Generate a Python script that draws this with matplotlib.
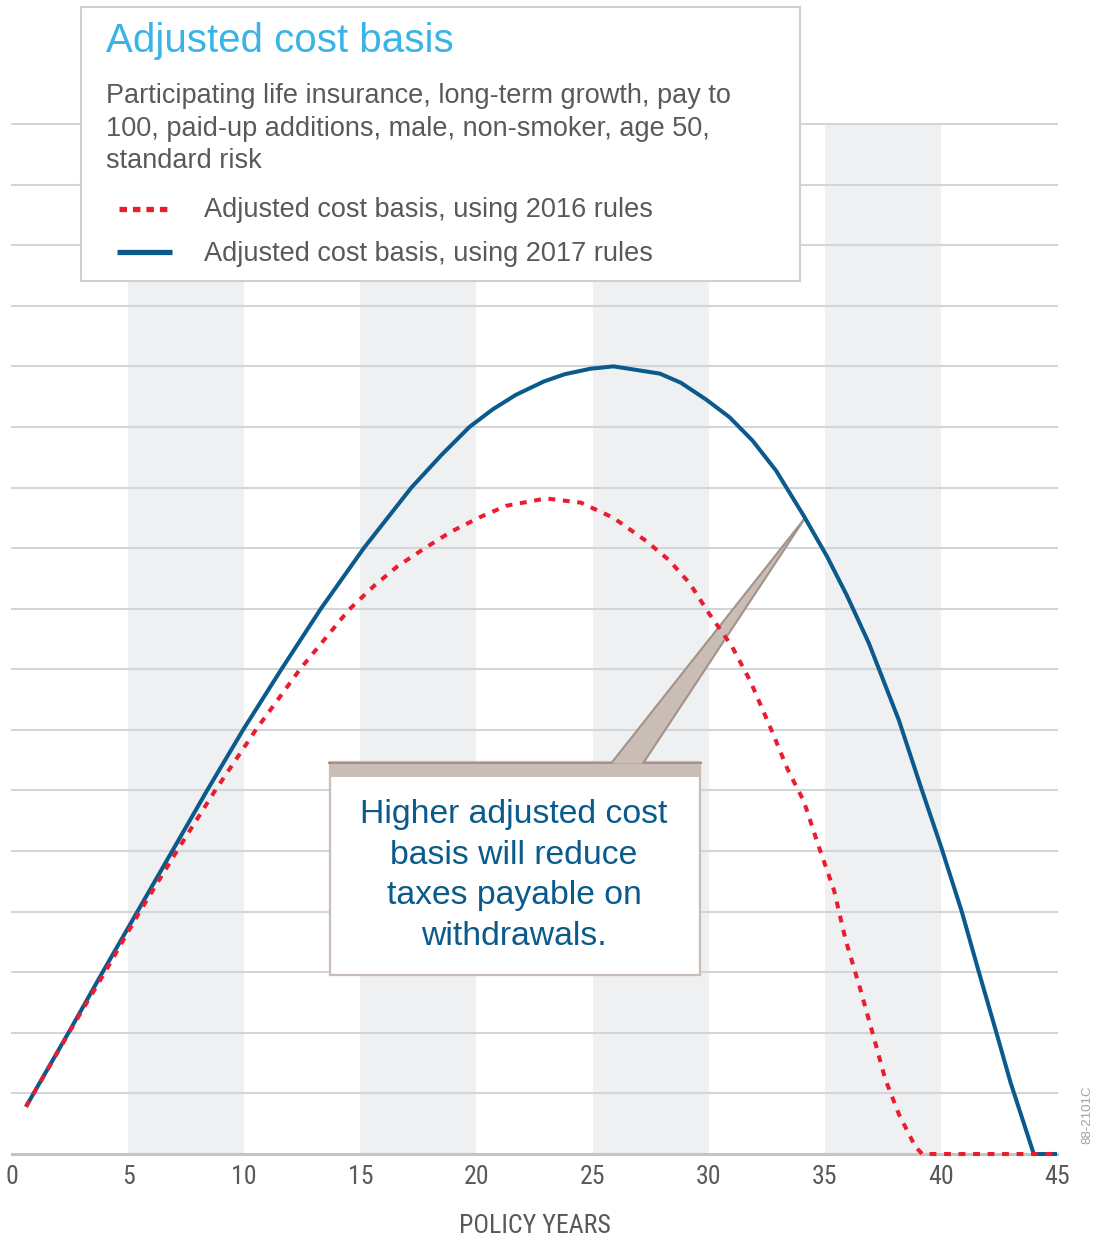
import numpy as np
import matplotlib
matplotlib.use("Agg")
import matplotlib.pyplot as plt
from matplotlib import font_manager as fm
from matplotlib.patches import Rectangle, Polygon
from matplotlib.lines import Line2D
from matplotlib.transforms import Affine2D

# ---------------------------------------------------------------- data
# Adjusted cost basis under the 2017 rules (policy year, relative amount)
acb_2017_years = [0.6, 2.43, 3.9, 5.4, 6.9, 8.4, 9.95, 11.6, 13.3, 15.15, 17.2, 18.5,
                  19.7, 20.7, 21.7, 22.9, 23.8, 24.9, 25.9, 27.9, 28.8, 29.9, 30.9,
                  31.9, 32.9, 34.1, 35.1, 35.95, 36.9, 38.2, 39.1, 40.0, 40.9, 41.6,
                  42.4, 43.0, 44.0, 45.0]
acb_2017_values = [0.78, 2.0, 3.0, 4.0, 5.0, 6.0, 7.0, 8.0, 9.0, 10.0, 11.0, 11.54,
                   12.0, 12.29, 12.53, 12.75, 12.87, 12.96, 13.0, 12.88, 12.73, 12.45,
                   12.16, 11.77, 11.28, 10.53, 9.86, 9.22, 8.43, 7.15, 6.1, 5.08, 4.0,
                   3.05, 1.99, 1.18, 0.0, 0.0]

# Adjusted cost basis under the 2016 rules
acb_2016_years = [0.6, 2.45, 4.0, 5.5, 7.1, 8.75, 10.5, 12.4, 14.5, 15.6, 16.6, 17.7,
                  18.9, 20.2, 21.3, 23.0, 24.5, 25.9, 27.3, 28.3, 29.2, 30.0, 31.0,
                  31.8, 32.7, 33.4, 34.1, 34.7, 35.4, 35.9, 36.5, 37.1, 37.6, 38.2,
                  38.9, 39.2, 45.0]
acb_2016_values = [0.78, 2.0, 3.0, 4.0, 5.0, 6.0, 7.0, 8.0, 8.98, 9.38, 9.7, 9.98,
                   10.27, 10.52, 10.7, 10.82, 10.75, 10.5, 10.12, 9.8, 9.41, 8.93, 8.38,
                   7.8, 7.0, 6.35, 5.82, 5.12, 4.35, 3.53, 2.76, 1.94, 1.24, 0.65,
                   0.12, 0.0, 0.0]

xtick_values = [0, 5, 10, 15, 20, 25, 30, 35, 40, 45]
xtick_labels = ["0", "5", "10", "15", "20", "25", "30", "35", "40", "45"]
shaded_starts = [5, 15, 25, 35]

title = "Adjusted cost basis"
subtitle_lines = ["Participating life insurance, long-term growth, pay to",
                  "100, paid-up additions, male, non-smoker, age 50,",
                  "standard risk"]
legend_labels = ["Adjusted cost basis, using 2016 rules",
                 "Adjusted cost basis, using 2017 rules"]
callout_lines = ["Higher adjusted cost", "basis will reduce",
                 "taxes payable on", "withdrawals."]
x_label = "POLICY YEARS"
code_label = "88-2101C"
callout_year = 34.15

# ---------------------------------------------------------------- style
BLUE = "#0b5a8c"
RED = "#ec1c2e"
TITLE_BLUE = "#3ab4e6"
GREY_TEXT = "#58595b"
BAND = "#eff0f2"
GRID = "#d4d5d7"
TAN = "#c9bdb5"
TAN_DARK = "#a39289"


def pick_font(names):
    for n in names:
        try:
            fm.findfont(fm.FontProperties(family=n), fallback_to_default=False)
            return n
        except ValueError:
            pass
    return None


SANS = pick_font(["Liberation Sans", "Arial"]) or "DejaVu Sans"

# a condensed face for the axis text, when one is installed
axis_font = {"family": SANS, "size": 17.0, "stretch": "normal"}
narrow = pick_font(["Liberation Sans Narrow", "Arial Narrow", "Roboto Condensed",
                    "Open Sans Condensed"])
if narrow:
    axis_font = {"family": narrow, "size": 18.6, "stretch": "normal"}
else:
    p = fm.findfont(fm.FontProperties(family="DejaVu Sans", stretch="condensed"))
    if "ondensed" in p:
        axis_font = {"family": "DejaVu Sans", "size": 17.5, "stretch": "condensed"}

W, H = 1093, 1236
fig = plt.figure(figsize=(W / 100, H / 100), dpi=100)
fig.patch.set_facecolor("white")

# pixel coordinates measured from the top-left corner of the canvas
PX = Affine2D().scale(1.0 / W, -1.0 / H).translate(0, 1) + fig.transFigure

ax = fig.add_axes([12 / W, (H - 1154) / H, 1045 / W, 1030 / H])
ax.set_xlim(0, 45)
ax.set_ylim(0, 17)
for s in ax.spines.values():
    s.set_visible(False)
ax.set_yticks([])

for start in shaded_starts:
    ax.axvspan(start, start + 5, color=BAND, lw=0, zorder=0)
for v in range(1, 18):
    ax.axhline(v, color=GRID, lw=1.5, zorder=1, clip_on=False)
ax.axhline(0, color="#c4c5c7", lw=2.2, zorder=1, clip_on=False)

ax.plot(acb_2017_years, acb_2017_values, color=BLUE, lw=2.9,
        solid_joinstyle="round", solid_capstyle="butt", zorder=4, clip_on=False)
ax.plot(acb_2016_years, acb_2016_values, color=RED, lw=2.9,
        linestyle=(0, (1.7, 1.9)), dash_capstyle="butt", zorder=5, clip_on=False)

ax.set_xticks(xtick_values)
ax.set_xticklabels(xtick_labels, fontfamily=axis_font["family"],
                   fontsize=axis_font["size"], fontstretch=axis_font["stretch"],
                   color=GREY_TEXT)
ax.tick_params(axis="x", length=0, pad=8.2)
ax.set_xlabel(x_label, fontfamily=axis_font["family"], fontsize=axis_font["size"],
              fontstretch=axis_font["stretch"], color=GREY_TEXT, labelpad=18)

# ---------------------------------------------------------------- callout
box = Rectangle((330, 762), 370, 213, transform=PX, facecolor="white",
                edgecolor=TAN, lw=1.6, zorder=3, clip_on=False)
ax.add_artist(box)
band = Rectangle((330, 762), 370, 15, transform=PX, facecolor=TAN,
                 edgecolor="none", zorder=3.1, clip_on=False)
ax.add_artist(band)
ax.add_artist(Line2D([329, 701], [762.5, 762.5], transform=PX, color=TAN_DARK,
                     lw=1.5, zorder=3.2, clip_on=False))

tip_val = np.interp(callout_year, acb_2017_years, acb_2017_values)
tx, ty = ax.transData.transform((callout_year, tip_val))
tip = (tx, H - ty)
base_l, base_r = (611, 763.5), (643, 763.5)
ax.add_artist(Polygon([base_l, tip, base_r], closed=True, transform=PX,
                      facecolor=TAN, edgecolor="none", zorder=3.3, clip_on=False))
for b in (base_l, base_r):
    ax.add_artist(Line2D([b[0], tip[0]], [b[1], tip[1]], transform=PX,
                         color=TAN_DARK, lw=1.5, zorder=3.4, clip_on=False,
                         solid_capstyle="butt"))

for i, line in enumerate(callout_lines):
    ax.text(514, 823 + i * 40.7, line, transform=PX, ha="center", va="baseline",
            fontsize=24.3, color=BLUE, fontfamily=SANS, zorder=6, clip_on=False)

# ---------------------------------------------------------------- legend box
fig.add_artist(Rectangle((81, 7), 719, 274, transform=PX, facecolor="white",
                         edgecolor="#d0d0d0", lw=1.5, zorder=10))
fig.text(106, 52, title, transform=PX, fontsize=29, color=TITLE_BLUE,
         fontfamily=SANS, va="baseline", zorder=11)
for i, line in enumerate(subtitle_lines):
    fig.text(106, 103 + i * 32.5, line, transform=PX, fontsize=19.5,
             color=GREY_TEXT, fontfamily=SANS, va="baseline", zorder=11)

fig.add_artist(Line2D([119, 168], [209, 209], transform=PX, color=RED, lw=3.8,
                      linestyle=(0, (1.42, 1.13)), dash_capstyle="butt", zorder=11))
fig.add_artist(Line2D([117, 172], [252, 252], transform=PX, color=BLUE, lw=3.8,
                      solid_capstyle="butt", zorder=11))
for i, lab in enumerate(legend_labels):
    fig.text(204, 217 + i * 44, lab, transform=PX, fontsize=19.5,
             color=GREY_TEXT, fontfamily=SANS, va="baseline", zorder=11)

fig.text(1087, 1115, code_label, transform=PX, rotation=90, ha="center",
         va="center", fontsize=9.5, color="#a3a3a3", fontfamily=SANS)

fig.savefig("out.png", dpi=100, facecolor="white")
